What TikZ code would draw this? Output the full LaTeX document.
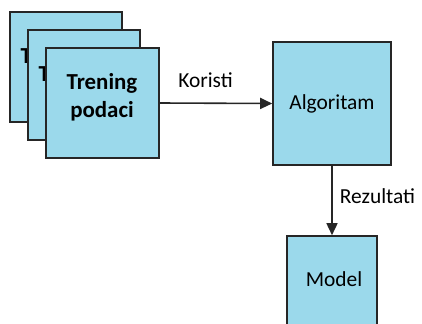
\documentclass[tikz,border=0pt]{standalone}
\usepackage{fontspec}
\setmainfont{Carlito}
\usetikzlibrary{arrows.meta}
\definecolor{blokfill}{RGB}{155,217,235}
\definecolor{blokdraw}{RGB}{38,38,38}
\tikzset{
  blok/.style={draw=blokdraw, fill=blokfill, line width=1.6bp, inner sep=0pt},
  podtekst/.style={inner sep=0pt, font=\fontsize{23}{28}\bfseries},
  tok/.style={draw=blokdraw, line width=1.6bp, -{Triangle[length=12bp,width=11bp]}},
  natpis/.style={inner sep=0pt, font=\fontsize{21.5}{26}\selectfont}
}

\begin{document}
\begin{tikzpicture}[x=1bp,y=-1bp]
  \useasboundingbox (0,0) rectangle (422,324);
  \clip (0,0) rectangle (422,324);
  % podaci (tri lista)
  \node[blok, minimum width=112bp, minimum height=110bp] (list1) at (66,67) {};
  \node[podtekst, anchor=north west, align=right] (tekst1) at (20.5,47) {Trening\\podaci};
  \node[blok, minimum width=112bp, minimum height=110bp] (list2) at (84,85) {};
  \node[podtekst, anchor=north west, align=right] (tekst2) at (38.5,65) {Trening\\podaci};
  \node[blok, minimum width=113bp, minimum height=110bp] (list3) at (102.5,103) {};
  \node[podtekst, align=center] (tekst3) at (102,97) {Trening\\podaci};
  % algoritam i model
  \node[blok, minimum width=118bp, minimum height=123bp, natpis] (alg) at (332,103.5) {Algoritam};
  \node[blok, minimum width=90bp, minimum height=92bp] (model) at (332,282) {};
  \node[natpis] (modeltekst) at (334,279) {Model};
  % veze
  \draw[tok] (list3.east) -- (alg.west);
  \draw[tok] (alg.south) -- (model.north);
  \node[natpis] (koristi) at (205.5,80) {Koristi};
  \node[natpis] (rezultati) at (377.5,196) {Rezultati};
\end{tikzpicture}
\end{document}
